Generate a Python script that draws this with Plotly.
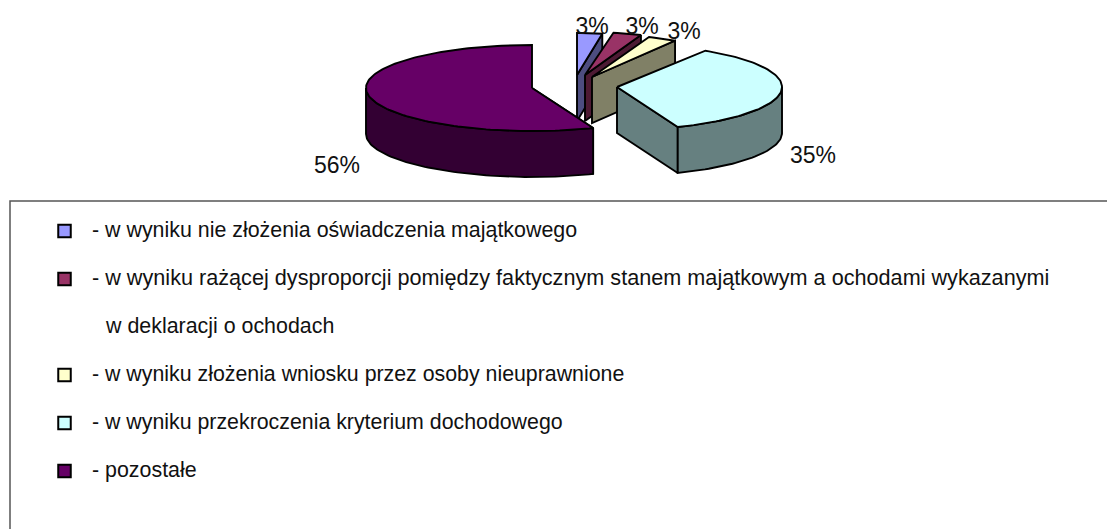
import math
import plotly.graph_objects as go

# --- data ---
categories = [
    "- w wyniku nie złożenia oświadczenia majątkowego",
    "- w wyniku rażącej dysproporcji pomiędzy faktycznym stanem majątkowym a ochodami wykazanymi",
    "- w wyniku złożenia wniosku przez osoby nieuprawnione",
    "- w wyniku przekroczenia kryterium dochodowego",
    "- pozostałe",
]
continuation = "w deklaracji o ochodach"
values = [3, 3, 3, 35, 56]
value_labels = ["3%", "3%", "3%", "35%", "56%"]
top_colors = ["#9999FF", "#993366", "#FFFFCC", "#CCFFFF", "#660066"]
side_colors = ["#4D4D80", "#4D1A33", "#808066", "#668080", "#330033"]

# --- pie geometry (pixel-like axes) ---
centers = [(577, 75), (585, 75), (592, 77), (617, 87), (532, 88)]
radii = [(135, 42), (152, 43), (155, 43), (165, 43), (166, 43)]
DEPTH = 46
label_pos = [(592, 28), (642, 28), (684, 33), (813, 157), (337, 167)]
order = [0, 1, 2, 3, 4]
LINE = dict(color="black", width=1.9)

total = sum(values)
angles = [0]
for v in values:
    angles.append(angles[-1] + v / total * 360)


def pt(i, deg):
    cx, cy = centers[i]
    rx, ry = radii[i]
    t = math.radians(deg)
    return cx + rx * math.sin(t), cy - ry * math.cos(t)


def arc(i, a, b, step=1.5):
    n = max(2, int(abs(b - a) / step))
    return [pt(i, a + (b - a) * k / n) for k in range(n + 1)]


def poly(points, color):
    xs = [p[0] for p in points] + [points[0][0]]
    ys = [p[1] for p in points] + [points[0][1]]
    return go.Scatter(x=xs, y=ys, mode="lines", fill="toself", fillcolor=color,
                      line=LINE, hoverinfo="skip", showlegend=False)


fig = go.Figure()
for i in order:
    a, b = angles[i], angles[i + 1]
    c = centers[i]
    # radial side face at the slice end (only visible for the right-hand slices)
    if b < 180:
        pe = pt(i, b)
        fig.add_trace(poly([c, pe, (pe[0], pe[1] + DEPTH), (c[0], c[1] + DEPTH)], side_colors[i]))
    # radial side face at the slice start, visible when it opens to the left/front
    if a > 90 and a < 180:
        ps = pt(i, a)
        fig.add_trace(poly([c, ps, (ps[0], ps[1] + DEPTH), (c[0], c[1] + DEPTH)], side_colors[i]))
    # outer wall: the front half of the rim
    lo, hi = max(a, 90), min(b, 270)
    if lo < hi:
        rim = arc(i, lo, hi)
        fig.add_trace(poly(rim + [(x, y + DEPTH) for x, y in reversed(rim)], side_colors[i]))
    # top
    fig.add_trace(poly([c] + arc(i, a, b), top_colors[i]))

# value labels
fig.add_trace(go.Scatter(x=[p[0] for p in label_pos], y=[p[1] for p in label_pos],
                         mode="text", text=value_labels, hoverinfo="skip", showlegend=False,
                         textposition="middle center",
                         textfont=dict(family="Liberation Sans", size=23, color="#111111")))

# legend panel
row_y = [230, 278, 374, 422, 470]
row_font = [21.4, 21.65, 21.34, 21.34, 21.4]
fig.add_shape(type="rect", x0=10, y0=201, x1=1125, y1=560, line=dict(color="#555555", width=1.5),
              fillcolor="rgba(0,0,0,0)", layer="below")
fig.add_trace(go.Scatter(x=[64.5] * 5, y=[y + 1 for y in row_y], mode="markers", hoverinfo="skip",
                         showlegend=False,
                         marker=dict(symbol="square", size=12.5, color=top_colors,
                                     line=dict(color="black", width=2))))
fig.add_trace(go.Scatter(x=[92] * 5, y=[y + 2 for y in row_y], mode="text", text=categories,
                         hoverinfo="skip", showlegend=False, textposition="middle right",
                         textfont=dict(family="Liberation Sans", size=row_font, color="#111111")))
fig.add_trace(go.Scatter(x=[106], y=[328], mode="text", text=[continuation], hoverinfo="skip",
                         showlegend=False, textposition="middle right",
                         textfont=dict(family="Liberation Sans", size=21.4, color="#111111")))

fig.update_layout(
    width=1107, height=529, autosize=False,
    margin=dict(l=0, r=0, t=0, b=0),
    paper_bgcolor="white", plot_bgcolor="white",
    xaxis=dict(range=[0, 1107], visible=False, fixedrange=True),
    yaxis=dict(range=[529, 0], visible=False, fixedrange=True),
)
fig.write_html("out.html", config={"displayModeBar": False},
               post_script="document.body.style.margin='0';document.body.style.overflow='hidden';")
